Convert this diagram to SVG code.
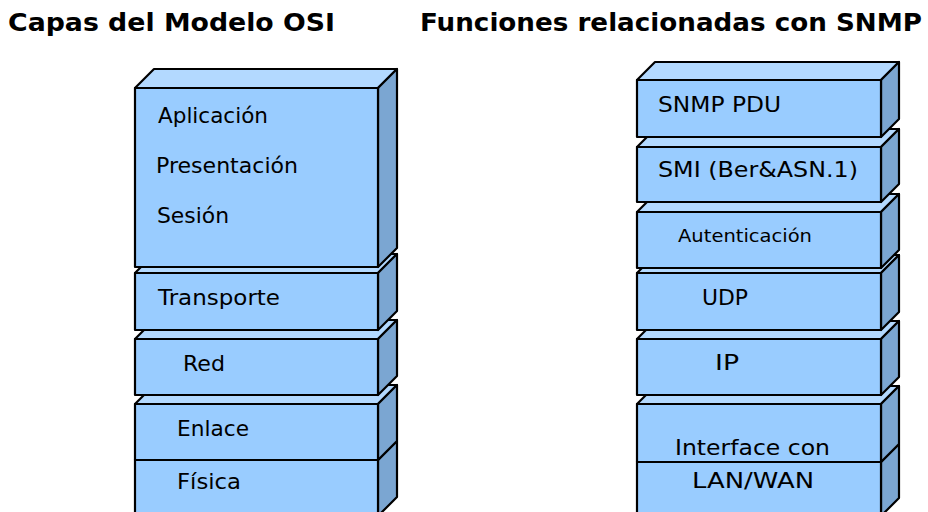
<svg xmlns="http://www.w3.org/2000/svg" width="928" height="512" viewBox="0 0 928 512">
<style>
.front{fill:#99CCFF;stroke:#000;stroke-width:2.2;stroke-linejoin:round}
.top{fill:#B3D9FF;stroke:#000;stroke-width:2.2;stroke-linejoin:round}
.side{fill:#7BA6D2;stroke:#000;stroke-width:2.2;stroke-linejoin:round}
.lbl{font-family:"Comic Sans MS","DejaVu Sans",sans-serif;font-size:21.5px;fill:#000}
.small{font-size:18px}
.title{font-family:Verdana,"DejaVu Sans",sans-serif;font-weight:bold;font-size:24.5px;fill:#000}
</style>
<rect width="928" height="512" fill="#fff"/>
<text class="title" x="8" y="31" textLength="327" lengthAdjust="spacingAndGlyphs">Capas del Modelo OSI</text>
<text class="title" x="420" y="31" textLength="502" lengthAdjust="spacingAndGlyphs">Funciones relacionadas con SNMP</text>

<!-- Left stack (bottom first) -->
<g id="fisica">
<polygon class="top" points="135,460 154,441 397,441 378,460"/>
<polygon class="side" points="378,460 397,441 397,497 378,516"/>
<rect class="front" x="135" y="460" width="243" height="56"/>
<text class="lbl" x="177" y="489" textLength="64" lengthAdjust="spacingAndGlyphs">Física</text>
</g>
<g id="enlace">
<polygon class="top" points="135,404 154,385 397,385 378,404"/>
<polygon class="side" points="378,404 397,385 397,441 378,460"/>
<rect class="front" x="135" y="404" width="243" height="56"/>
<text class="lbl" x="177" y="436" textLength="72" lengthAdjust="spacingAndGlyphs">Enlace</text>
</g>
<g id="red">
<polygon class="top" points="135,339 154,320 397,320 378,339"/>
<polygon class="side" points="378,339 397,320 397,376 378,395"/>
<rect class="front" x="135" y="339" width="243" height="56"/>
<text class="lbl" x="183" y="371" textLength="42" lengthAdjust="spacingAndGlyphs">Red</text>
</g>
<g id="transporte">
<polygon class="top" points="135,273 154,254 397,254 378,273"/>
<polygon class="side" points="378,273 397,254 397,311 378,330"/>
<rect class="front" x="135" y="273" width="243" height="57"/>
<text class="lbl" x="158" y="305" textLength="122" lengthAdjust="spacingAndGlyphs">Transporte</text>
</g>
<g id="aplicacion">
<polygon class="top" points="135,88 154,69 397,69 378,88"/>
<polygon class="side" points="378,88 397,69 397,248 378,267"/>
<rect class="front" x="135" y="88" width="243" height="179"/>
<text class="lbl" x="158" y="123" textLength="110" lengthAdjust="spacingAndGlyphs">Aplicación</text>
<text class="lbl" x="156" y="173" textLength="142" lengthAdjust="spacingAndGlyphs">Presentación</text>
<text class="lbl" x="157" y="223" textLength="72" lengthAdjust="spacingAndGlyphs">Sesión</text>
</g>

<!-- Right stack (bottom first) -->
<g id="lanwan">
<polygon class="top" points="637,462 655,444 899,444 881,462"/>
<polygon class="side" points="881,462 899,444 899,498 881,516"/>
<rect class="front" x="637" y="462" width="244" height="54"/>
<text class="lbl" x="692" y="488" textLength="122" lengthAdjust="spacingAndGlyphs">LAN/WAN</text>
</g>
<g id="interface">
<polygon class="top" points="637,404 655,386 899,386 881,404"/>
<polygon class="side" points="881,404 899,386 899,444 881,462"/>
<rect class="front" x="637" y="404" width="244" height="58"/>
<text class="lbl" x="675" y="455" textLength="155" lengthAdjust="spacingAndGlyphs">Interface con</text>
</g>
<g id="ip">
<polygon class="top" points="637,339 655,321 899,321 881,339"/>
<polygon class="side" points="881,339 899,321 899,377 881,395"/>
<rect class="front" x="637" y="339" width="244" height="56"/>
<text class="lbl" x="715" y="370" textLength="24" lengthAdjust="spacingAndGlyphs">IP</text>
</g>
<g id="udp">
<polygon class="top" points="637,273 655,255 899,255 881,273"/>
<polygon class="side" points="881,273 899,255 899,312 881,330"/>
<rect class="front" x="637" y="273" width="244" height="57"/>
<text class="lbl" x="702" y="305" textLength="46" lengthAdjust="spacingAndGlyphs">UDP</text>
</g>
<g id="autenticacion">
<polygon class="top" points="637,212 655,194 899,194 881,212"/>
<polygon class="side" points="881,212 899,194 899,250 881,268"/>
<rect class="front" x="637" y="212" width="244" height="56"/>
<text class="lbl small" x="678" y="242" textLength="134" lengthAdjust="spacingAndGlyphs">Autenticación</text>
</g>
<g id="smi">
<polygon class="top" points="637,147 655,129 899,129 881,147"/>
<polygon class="side" points="881,147 899,129 899,184 881,202"/>
<rect class="front" x="637" y="147" width="244" height="55"/>
<text class="lbl" x="658" y="177" textLength="200" lengthAdjust="spacingAndGlyphs">SMI (Ber&amp;ASN.1)</text>
</g>
<g id="snmppdu">
<polygon class="top" points="637,80 655,62 899,62 881,80"/>
<polygon class="side" points="881,80 899,62 899,119 881,137"/>
<rect class="front" x="637" y="80" width="244" height="57"/>
<text class="lbl" x="658" y="112" textLength="123" lengthAdjust="spacingAndGlyphs">SNMP PDU</text>
</g>
<g id="connectors"/>
</svg>
